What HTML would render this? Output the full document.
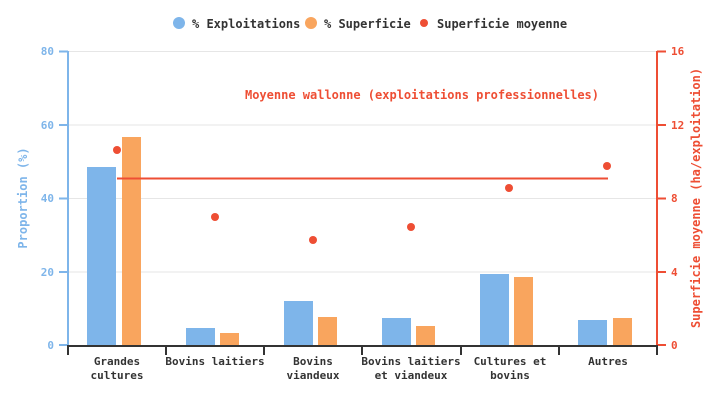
<!DOCTYPE html><html><head><style>body{margin:0;background:#fff}svg{display:block;font-family:"DejaVu Sans Mono","Liberation Mono",monospace;font-weight:bold}</style></head><body>
<svg width="725" height="400" viewBox="0 0 725 400">
<g stroke="#e6e6e6" stroke-width="1">
<line x1="68" x2="657" y1="51.5" y2="51.5"/><line x1="68" x2="657" y1="125" y2="125"/><line x1="68" x2="657" y1="198.5" y2="198.5"/><line x1="68" x2="657" y1="272" y2="272"/>
</g>
<g fill="#7eb5ea">
<rect x="87" y="167" width="29" height="178"/><rect x="186" y="328" width="29" height="17"/><rect x="284" y="301" width="29" height="44"/><rect x="382" y="318" width="29" height="27"/><rect x="480" y="274" width="29" height="71"/><rect x="578" y="320" width="29" height="25"/>
</g>
<g fill="#f9a55e">
<rect x="122" y="137" width="19" height="208"/><rect x="220" y="333" width="19" height="12"/><rect x="318" y="317" width="19" height="28"/><rect x="416" y="326" width="19" height="19"/><rect x="514" y="277" width="19" height="68"/><rect x="613" y="318" width="19" height="27"/>
</g>
<line x1="117" x2="608" y1="178.5" y2="178.5" stroke="#ee4e34" stroke-width="2"/>
<g fill="#ee4e34">
<circle cx="117" cy="150" r="4"/><circle cx="215" cy="217" r="4"/><circle cx="313" cy="240" r="4"/><circle cx="411" cy="227" r="4"/><circle cx="509" cy="188" r="4"/><circle cx="607" cy="166" r="4"/>
</g>
<text x="422" y="99" fill="#ee4e34" font-size="12" text-anchor="middle">Moyenne wallonne (exploitations professionnelles)</text>
<g stroke="#7eb5ea" stroke-width="2" fill="none"><line x1="68" x2="68" y1="51" y2="346"/><line x1="59" x2="68" y1="51.5" y2="51.5"/><line x1="59" x2="68" y1="125" y2="125"/><line x1="59" x2="68" y1="198.5" y2="198.5"/><line x1="59" x2="68" y1="272" y2="272"/><line x1="59" x2="68" y1="345" y2="345"/></g>
<g fill="#7eb5ea" font-size="11" text-anchor="end"><text x="54" y="55">80</text><text x="54" y="129">60</text><text x="54" y="202">40</text><text x="54" y="276">20</text><text x="54" y="349">0</text></g>
<text transform="translate(27,198) rotate(-90)" fill="#7eb5ea" font-size="12" text-anchor="middle">Proportion (%)</text>
<g stroke="#ee4e34" stroke-width="2" fill="none"><line x1="657" x2="657" y1="51" y2="346"/><line x1="657" x2="666" y1="51.5" y2="51.5"/><line x1="657" x2="666" y1="125" y2="125"/><line x1="657" x2="666" y1="198.5" y2="198.5"/><line x1="657" x2="666" y1="272" y2="272"/><line x1="657" x2="666" y1="345" y2="345"/></g>
<g fill="#ee4e34" font-size="11"><text x="671" y="55">16</text><text x="671" y="129">12</text><text x="671" y="202">8</text><text x="671" y="276">4</text><text x="671" y="349">0</text></g>
<text transform="translate(700,198) rotate(-90)" fill="#ee4e34" font-size="12" text-anchor="middle">Superficie moyenne (ha/exploitation)</text>
<g stroke="#333" stroke-width="2"><line x1="67" x2="658" y1="346" y2="346"/>
<line x1="68" x2="68" y1="346" y2="355"/><line x1="166" x2="166" y1="346" y2="355"/><line x1="264" x2="264" y1="346" y2="355"/><line x1="362" x2="362" y1="346" y2="355"/><line x1="461" x2="461" y1="346" y2="355"/><line x1="559" x2="559" y1="346" y2="355"/><line x1="657" x2="657" y1="346" y2="355"/></g>
<g fill="#333" font-size="11" text-anchor="middle">
<text x="117" y="365">Grandes</text><text x="117" y="379">cultures</text>
<text x="215" y="365">Bovins laitiers</text>
<text x="313" y="365">Bovins</text><text x="313" y="379">viandeux</text>
<text x="411" y="365">Bovins laitiers</text><text x="411" y="379">et viandeux</text>
<text x="510" y="365">Cultures et</text><text x="510" y="379">bovins</text>
<text x="608" y="365">Autres</text>
</g>
<g font-size="12" fill="#333">
<circle cx="179" cy="23" r="6" fill="#7eb5ea"/><text x="192" y="28">% Exploitations</text>
<circle cx="311" cy="23" r="6" fill="#f9a55e"/><text x="324" y="28">% Superficie</text>
<circle cx="424" cy="23" r="4" fill="#ee4e34"/><text x="437" y="28">Superficie moyenne</text>
</g>
</svg></body></html>
